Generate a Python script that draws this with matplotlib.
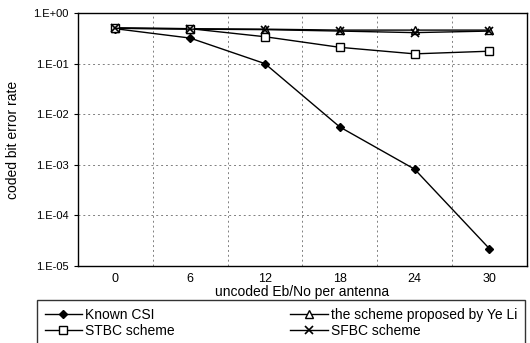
import math
import matplotlib.pyplot as plt
from matplotlib.ticker import FixedLocator, FuncFormatter, NullLocator

plt.rcParams['font.family'] = ['Liberation Sans', 'DejaVu Sans']

snr = ["0", "6", "12", "18", "24", "30"]
known_csi = [0.49, 0.32, 0.10, 0.0056, 0.00082, 0.000022]
ye_li = [0.50, 0.49, 0.48, 0.46, 0.46, 0.46]
stbc = [0.51, 0.49, 0.34, 0.21, 0.156, 0.176]
sfbc = [0.50, 0.48, 0.47, 0.44, 0.41, 0.44]

fig = plt.figure(figsize=(5.3, 3.43), dpi=100)
ax = fig.add_axes([0.147, 0.2245, 0.847, 0.7375])

x = range(len(snr))
h1, = ax.plot(x, known_csi, c='black', lw=1, marker='D', ms=4, mfc='black', label="Known CSI")
h2, = ax.plot(x, ye_li, c='black', lw=1, marker='^', ms=6, mfc='white', label="the scheme proposed by Ye Li")
h3, = ax.plot(x, stbc, c='black', lw=1, marker='s', ms=6, mfc='white', label="STBC scheme")
h4, = ax.plot(x, sfbc, c='black', lw=1, marker='x', ms=6, mew=1.2, label="SFBC scheme")

ax.set_yscale('log')
ax.set_ylim(1e-5, 1)
ax.set_xlim(-0.5, len(snr) - 0.5)
ax.yaxis.set_major_locator(FixedLocator([1e-5, 1e-4, 1e-3, 1e-2, 1e-1, 1]))
ax.yaxis.set_minor_locator(NullLocator())
ax.yaxis.set_major_formatter(FuncFormatter(lambda v, p: "1.E%+03d" % round(math.log10(v))))
ax.set_xticks(list(x))
ax.set_xticklabels(snr)
ax.set_xticks([i + 0.5 for i in range(len(snr) - 1)], minor=True)
ax.tick_params(axis='x', which='both', length=0, labelsize=9, pad=5)
ax.tick_params(axis='y', which='major', length=3, labelsize=8)

ax.grid(axis='y', which='major', c='gray', ls=(0, (2, 3)), lw=0.7)
ax.grid(axis='x', which='minor', c='gray', ls=(0, (2, 3)), lw=0.7)
for s in ax.spines.values():
    s.set_linewidth(1)

ax.set_xlabel("uncoded Eb/No per antenna", fontsize=10, labelpad=0)
ax.set_ylabel("coded bit error rate", fontsize=10, labelpad=10)

fig.legend(handles=[h1, h3, h2, h4], loc='upper left', bbox_to_anchor=(0.07, 0.0, 0.92, 0.125),
           mode='expand', ncol=2, fontsize=10, frameon=True, fancybox=False, edgecolor='black',
           handlelength=2.7, borderpad=0.55, labelspacing=0.15, handletextpad=0.2, borderaxespad=0)

fig.savefig("out.png", dpi=100)
